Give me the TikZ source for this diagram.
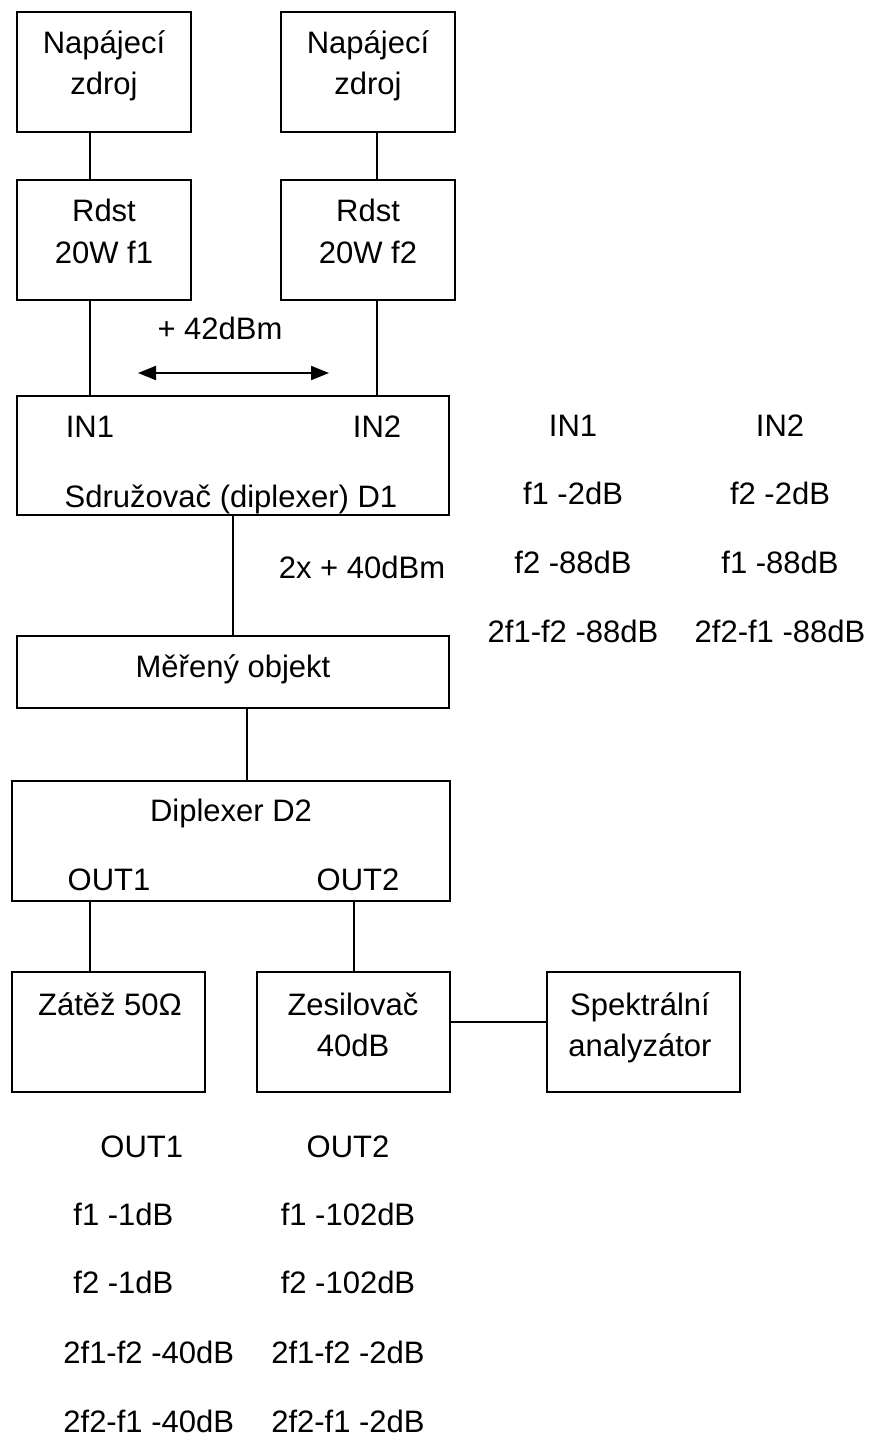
\documentclass[tikz,border=0pt]{standalone}
\usepackage{fontspec}
\setmainfont{Liberation Sans}
\usetikzlibrary{arrows.meta}

\begin{document}
\begin{tikzpicture}[
    x=0.5pt, y=-0.5pt,
    every node/.style={font=\fontsize{15.5}{18}\selectfont},
    blok/.style={draw, line width=1pt, inner sep=0pt, minimum width=87pt, minimum height=60pt},
    siroky/.style={blok, minimum width=216pt},
    txt/.style={anchor=base, inner sep=0pt},
    txtl/.style={anchor=base west, inner sep=0pt},
    spoj/.style={line width=1pt},
    sipka/.style={{Triangle[length=9pt,width=7pt]}-{Triangle[length=9pt,width=7pt]}, line width=1pt}
  ]
    \useasboundingbox (0,0) rectangle (873,1436);

    % bloky
    \node[blok] (nap1) at (104,72) {};
    \node[blok] (nap2) at (368,72) {};
    \node[blok] (rd1) at (104,240) {};
    \node[blok] (rd2) at (368,240) {};
    \node[siroky, minimum height=59.5pt] (sdr) at (233,455.5) {};
    \node[siroky, minimum height=36pt] (mer) at (233,672) {};
    \node[blok, minimum width=219pt] (d2) at (231,841) {};
    \node[blok, minimum width=96.5pt] (zat) at (108.5,1032) {};
    \node[blok, minimum width=96.5pt] (zes) at (353.5,1032) {};
    \node[blok, minimum width=96.5pt] (spe) at (643.5,1032) {};

    % texty v blocich
    \node[txt] (nap1a) at (104,53) {Napájecí};
    \node[txt] (nap1b) at (104,94) {zdroj};
    \node[txt] (nap2a) at (368,53) {Napájecí};
    \node[txt] (nap2b) at (368,94) {zdroj};
    \node[txt] (rd1a) at (104,221) {Rdst};
    \node[txt] (rd1b) at (104,263) {20W f1};
    \node[txt] (rd2a) at (368,221) {Rdst};
    \node[txt] (rd2b) at (368,263) {20W f2};
    \node[txt] (in1) at (90,437) {IN1};
    \node[txt] (in2) at (377,437) {IN2};
    \node[txt] (sdrt) at (231,507) {Sdružovač (diplexer) D1};
    \node[txt] (mert) at (233,677) {Měřený objekt};
    \node[txt] (d2t) at (231,821) {Diplexer D2};
    \node[txt] (out1) at (109,890) {OUT1};
    \node[txt] (out2) at (358,890) {OUT2};
    \node[txt] (zatt) at (110,1015) {Zátěž 50Ω};
    \node[txt] (zesa) at (353,1015) {Zesilovač};
    \node[txt] (zesb) at (353,1056) {40dB};
    \node[txt] (spea) at (640,1015) {Spektrální};
    \node[txt] (speb) at (640,1056) {analyzátor};

    % urovne
    \node[txt] (p42) at (220,339) {+ 42dBm};
    \node[txt] (p40) at (362,578) {2x + 40dBm};
    \coordinate (s1) at (138,373);
    \coordinate (s2) at (329,373);

    % tabulka vstupu
    \node[txt] (ti1) at (573,436) {IN1};
    \node[txt] (ti2) at (780,436) {IN2};
    \node[txt] (ti1a) at (573,504) {f1 -2dB};
    \node[txt] (ti2a) at (780,504) {f2 -2dB};
    \node[txt] (ti1b) at (573,573) {f2 -88dB};
    \node[txt] (ti2b) at (780,573) {f1 -88dB};
    \node[txt] (ti1c) at (573,642) {2f1-f2 -88dB};
    \node[txt] (ti2c) at (780,642) {2f2-f1 -88dB};

    % tabulka vystupu
    \node[txtl] (to1) at (100,1157) {OUT1};
    \node[txtl] (to1a) at (73,1225) {f1 -1dB};
    \node[txtl] (to1b) at (73,1293) {f2 -1dB};
    \node[txtl] (to1c) at (63,1363) {2f1-f2 -40dB};
    \node[txtl] (to1d) at (63,1432) {2f2-f1 -40dB};
    \node[txt] (to2) at (348,1157) {OUT2};
    \node[txt] (to2a) at (348,1225) {f1 -102dB};
    \node[txt] (to2b) at (348,1293) {f2 -102dB};
    \node[txt] (to2c) at (348,1363) {2f1-f2 -2dB};
    \node[txt] (to2d) at (348,1432) {2f2-f1 -2dB};

    % spoje
    \draw[spoj] (nap1.south -| in1) -- (rd1.north -| in1);
    \draw[spoj] (nap2.south -| in2) -- (rd2.north -| in2);
    \draw[spoj] (rd1.south -| in1) -- (sdr.north -| in1);
    \draw[spoj] (rd2.south -| in2) -- (sdr.north -| in2);
    \draw[sipka] (s1) -- (s2);
    \draw[spoj] (sdr.south -| mer) -- (mer.north);
    \draw[spoj] ([xshift=7pt]mer.south) -- ([xshift=7pt]mer.south |- d2.north);
    \draw[spoj] (d2.south -| in1) -- (zat.north -| in1);
    \draw[spoj] (d2.south -| zes) -- (zes.north);
    \draw[spoj] ([yshift=5pt]zes.east) -- ([yshift=5pt]spe.west);
\end{tikzpicture}
\end{document}
